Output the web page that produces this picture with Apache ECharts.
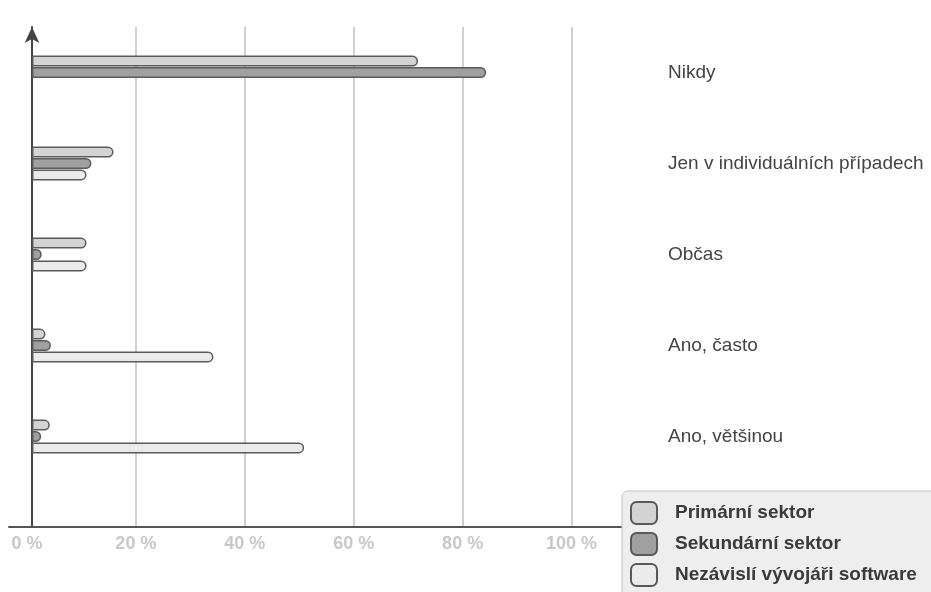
<!DOCTYPE html>
<html><head><meta charset="utf-8">
<script src="https://cdn.jsdelivr.net/npm/echarts@6/dist/echarts.min.js"></script>
<style>html,body{margin:0;padding:0;background:#fff}#c{width:931px;height:592px}</style>
</head><body><div id="c"></div>
<script>
const categories = ['Nikdy', 'Jen v individuálních případech', 'Občas', 'Ano, často', 'Ano, většinou'];
const seriesNames = ['Primární sektor', 'Sekundární sektor', 'Nezávislí vývojáři software'];
const primary = [71.5, 15.1, 10.1, 2.5, 3.3];
const secondary = [84.1, 11.0, 1.8, 3.5, 1.7];
const independent = [null, 10.1, 10.1, 33.6, 50.4];
const tickValues = [0, 20, 40, 60, 80, 100];
const colors = ['#d3d3d3', '#a0a0a0', '#ebebeb'];

const font = '"Liberation Sans", Arial, sans-serif';

const chart = echarts.init(document.getElementById('c'), null, {renderer: 'canvas'});
const dataSets = [primary, secondary, independent];
chart.setOption({
  animation: false,
  grid: [
    {left: 9, right: 305, top: 27, bottom: 65, containLabel: false},
    {left: 9, right: 305, top: 27, bottom: 110, containLabel: false}
  ],
  legend: {
    left: 622, top: 491, height: 90, orient: 'vertical',
    padding: [10, 40, 6, 8],
    backgroundColor: '#eeeeee', borderColor: '#c4c4c4', borderWidth: 1,
    borderRadius: [6, 0, 0, 0],
    icon: 'roundRect', itemWidth: 26, itemHeight: 22, itemGap: 7,
    itemStyle: {borderWidth: 2, borderColor: '#5a5a5a'},
    textStyle: {fontFamily: font, fontSize: 19, fontWeight: 'bold', color: '#3a3a3a', lineHeight: 21, padding: [0, 0, 0, 13]},
    data: seriesNames
  },
  xAxis: [
    {gridIndex: 0, type: 'value', min: -3.3, max: 110,
     axisLine: {show: true, onZero: false, lineStyle: {color: '#555', width: 2}},
     axisTick: {show: false, customValues: tickValues},
     axisLabel: {customValues: tickValues, formatter: v => v + ' %', color: '#c8c8c8', fontFamily: font, fontSize: 18, fontWeight: 'bold', margin: 8},
     splitLine: {show: true, lineStyle: {color: ['rgba(0,0,0,0)', '#d0d0d0', '#d0d0d0', '#d0d0d0', '#d0d0d0', '#d0d0d0'], width: 2}}
    },
    {gridIndex: 1, type: 'value', min: -4.26, max: 110, show: false, splitLine: {show: false}}
  ],
  yAxis: [
    {gridIndex: 0, type: 'value', min: 0, max: 1, position: 'left', offset: -23,
     axisLine: {show: true, onZero: false, symbol: ['none', 'arrow'], symbolSize: [11, 16], symbolOffset: [0, 0],
                lineStyle: {color: '#444', width: 2}},
     axisTick: {show: false}, axisLabel: {show: false}, splitLine: {show: false}
    },
    {gridIndex: 1, type: 'category', inverse: true, data: categories, position: 'right',
     axisLine: {show: false}, axisTick: {show: false},
     axisLabel: {align: 'left', margin: 42, color: '#444', fontFamily: font, fontSize: 19}
    }
  ],
  series: dataSets.map((d, i) => ({
    name: seriesNames[i], type: 'bar', xAxisIndex: 1, yAxisIndex: 1,
    data: d, barWidth: 11, barGap: '4%',
    itemStyle: {color: colors[i], borderColor: '#5a5a5a', borderWidth: 1.5, borderRadius: [0, 6, 6, 0]}
  }))
});
</script></body></html>
